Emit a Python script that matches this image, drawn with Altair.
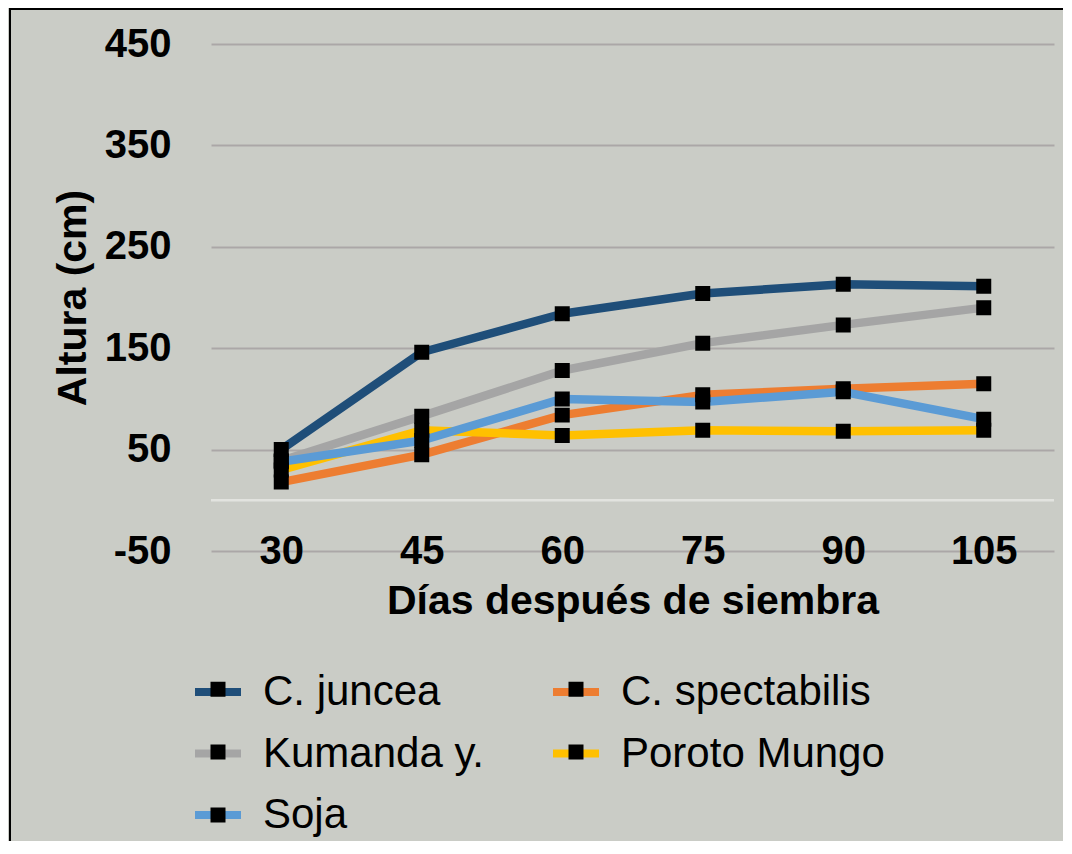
import altair as alt
import pandas as pd

dias = ["30", "45", "60", "75", "90", "105"]
series = ["C. juncea", "C. spectabilis", "Kumanda y.", "Poroto Mungo", "Soja"]
c_juncea = [50, 146, 184, 204, 213, 211]
c_spectabilis = [18, 45, 84, 104, 110, 115]
kumanda = [39, 83, 128, 155, 173, 190]
poroto = [30, 69, 64, 69, 68, 69]
soja = [38, 59, 100, 97, 107, 80]
colors = ["#1F4E79", "#ED7D31", "#A5A5A5", "#FFC000", "#5B9BD5"]
y_ticks = [-50, 50, 150, 250, 350, 450]

values = [c_juncea, c_spectabilis, kumanda, poroto, soja]
rows = []
for s, vals in zip(series, values):
    for d, v in zip(dias, vals):
        rows.append({"dia": d, "serie": s, "serie2": s, "altura": v})
df = pd.DataFrame(rows)

FONT = "Liberation Sans"
# black square marker; the zero-area horizontal segment only widens the
# symbol bounds so that the marker legend lays out like the line legend
SQ = "M-1,0H1M-0.326,-0.326H0.326V0.326H-0.326Z"
SYM = 2116

x_enc = alt.X("dia:O", sort=dias, title="Días después de siembra",
              scale=alt.Scale(paddingOuter=0.5),
              axis=alt.Axis(labelAngle=0, labelBaseline="middle", labelPadding=0,
                            ticks=False, domain=False, grid=False, titlePadding=10))
y_enc = alt.Y("altura:Q", title="Altura (cm)",
              scale=alt.Scale(domain=[-50, 450], nice=False, zero=False),
              axis=alt.Axis(values=y_ticks, ticks=False, domain=False, labelPadding=40,
                            labelExpr="'' + datum.value",
                            titlePadding=10, gridColor="#ABA7A7", gridWidth=2))

legend_common = dict(orient="none", legendX=-20, columns=2,
                     direction="horizontal",
                     columnPadding=52, labelOffset=18,
                     symbolSize=SYM, symbolStrokeWidth=8, labelFontSize=42,
                     labelFont=FONT, labelColor="black", title=None, padding=0,
                     labelLimit=0)

base = alt.Chart(df)

zero_rule = alt.Chart(pd.DataFrame({"z": [0]})).mark_rule(
    color="#E2E3DF", strokeWidth=2.5).encode(
    y=alt.Y("z:Q", scale=alt.Scale(domain=[-50, 450], nice=False, zero=False)))

lines = base.mark_line(strokeWidth=8.5, strokeJoin="round").encode(
    x=x_enc, y=y_enc,
    color=alt.Color("serie:N", scale=alt.Scale(domain=series, range=colors),
                    legend=alt.Legend(symbolType="stroke", legendY=621, rowPadding=13.5,
                                      **legend_common)),
    order=alt.Order("dia_idx:Q"),
).transform_calculate(dia_idx="toNumber(datum.dia)")

points = base.mark_point(filled=True, color="black", opacity=1, size=SYM).encode(
    x=x_enc, y=y_enc,
    shape=alt.Shape("serie2:N", scale=alt.Scale(range=[SQ] * 5),
                    legend=alt.Legend(labelOpacity=0, symbolFillColor="black",
                                      symbolStrokeColor="transparent",
                                      legendY=618, rowPadding=12, **legend_common)),
)

frame_data = pd.DataFrame({"f": [0]})
left_border = alt.Chart(frame_data).mark_rule(color="black", strokeWidth=2).encode(
    x=alt.value(-201), y=alt.value(-36), y2=alt.value(820))
top_border = alt.Chart(frame_data).mark_rule(color="black", strokeWidth=2).encode(
    x=alt.value(-201), x2=alt.value(860), y=alt.value(-35))

chart = alt.layer(zero_rule, lines, points, left_border, top_border).resolve_scale(
    color="independent", shape="independent"
).properties(
    width=843, height=507,
    autosize=alt.AutoSizeParams(type="none"),
    padding={"left": 203, "top": 36, "right": 9, "bottom": 290},
    background="#CACCC6",
).configure_view(stroke=None).configure_axis(
    labelFont=FONT, labelFontWeight="bold", labelFontSize=40, labelColor="black",
    titleFont=FONT, titleFontWeight="bold", titleFontSize=41, titleColor="black",
)

chart.save("out.html", embed_options={"renderer": "svg", "actions": False})
